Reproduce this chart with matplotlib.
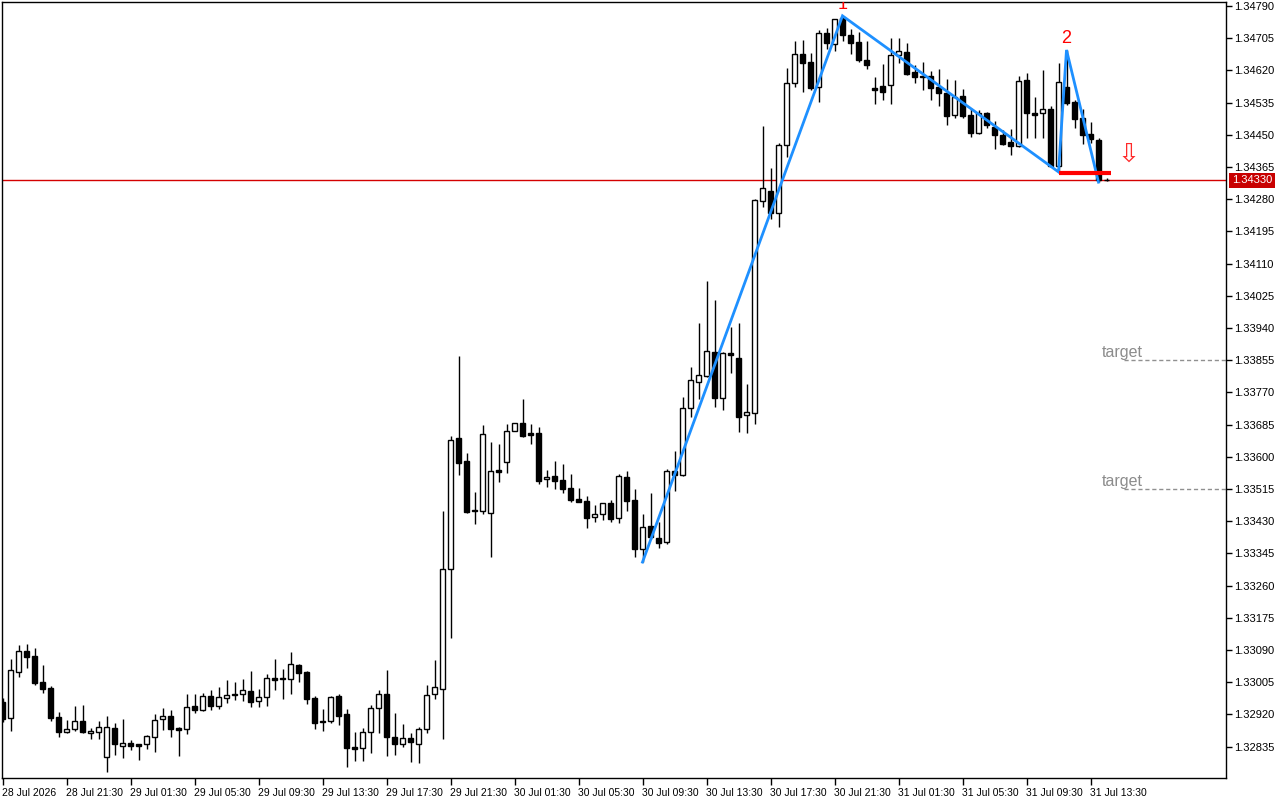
import numpy as np
import matplotlib
matplotlib.use("Agg")
import matplotlib.pyplot as plt
import matplotlib.transforms as mtransforms

# 30 min bary, 28 Jul 17:30 az 31 Jul 14:30
opens = [1.32953, 1.32910, 1.33032, 1.33087, 1.33074, 1.33005, 1.32990, 1.32913, 1.32873, 1.32881,
         1.32902, 1.32871, 1.32873, 1.32807, 1.32884, 1.32836, 1.32844, 1.32842, 1.32842, 1.32860,
         1.32908, 1.32916, 1.32884, 1.32881, 1.32942, 1.32931, 1.32968, 1.32942, 1.32963, 1.32971,
         1.32974, 1.32982, 1.32955, 1.32966, 1.33016, 1.33016, 1.33013, 1.33050, 1.33032, 1.32963,
         1.32902, 1.32902, 1.32968, 1.32921, 1.32834, 1.32831, 1.32873, 1.32937, 1.32974, 1.32860,
         1.32842, 1.32858, 1.32842, 1.32881, 1.32974, 1.32987, 1.33304, 1.33650, 1.33589, 1.33459,
         1.33457, 1.33451, 1.33565, 1.33586, 1.33668, 1.33689, 1.33663, 1.33663, 1.33541, 1.33549,
         1.33539, 1.33518, 1.33489, 1.33483, 1.33441, 1.33449, 1.33478, 1.33438, 1.33547, 1.33486,
         1.33357, 1.33417, 1.33386, 1.33375, 1.33562, 1.33552, 1.33729, 1.33797, 1.33813, 1.33877,
         1.33755, 1.33874, 1.33861, 1.33710, 1.33715, 1.34275, 1.34302, 1.34243, 1.34423, 1.34587,
         1.34663, 1.34642, 1.34576, 1.34719, 1.34690, 1.34758, 1.34713, 1.34695, 1.34647, 1.34574,
         1.34579, 1.34581, 1.34661, 1.34669, 1.34616, 1.34605, 1.34605, 1.34576, 1.34560, 1.34502,
         1.34552, 1.34502, 1.34455, 1.34508, 1.34471, 1.34449, 1.34431, 1.34420, 1.34595, 1.34508,
         1.34508, 1.34518, 1.34368, 1.34576, 1.34537, 1.34494, 1.34452, 1.34436, 1.34331]
highs = [1.32963, 1.33066, 1.33103, 1.33106, 1.33095, 1.33050, 1.32995, 1.32926, 1.32905, 1.32942,
         1.32945, 1.32884, 1.32902, 1.32916, 1.32897, 1.32908, 1.32852, 1.32843, 1.32865, 1.32921,
         1.32937, 1.32931, 1.32887, 1.32974, 1.32974, 1.32976, 1.32984, 1.32992, 1.33011, 1.33005,
         1.33013, 1.33034, 1.32987, 1.33027, 1.33066, 1.33040, 1.33085, 1.33053, 1.33034, 1.32968,
         1.32934, 1.32968, 1.32974, 1.32934, 1.32873, 1.32884, 1.32945, 1.32984, 1.33037, 1.32924,
         1.32895, 1.32871, 1.32887, 1.32997, 1.33063, 1.33457, 1.33655, 1.33866, 1.33610, 1.33507,
         1.33684, 1.33639, 1.33634, 1.33686, 1.33690, 1.33752, 1.33686, 1.33679, 1.33565, 1.33589,
         1.33581, 1.33555, 1.33518, 1.33496, 1.33473, 1.33479, 1.33486, 1.33555, 1.33562, 1.33515,
         1.33449, 1.33504, 1.33428, 1.33568, 1.33615, 1.33758, 1.33837, 1.33953, 1.34064, 1.34014,
         1.33876, 1.33943, 1.33953, 1.33792, 1.34280, 1.34473, 1.34362, 1.34428, 1.34626, 1.34698,
         1.34700, 1.34666, 1.34727, 1.34732, 1.34757, 1.34764, 1.34729, 1.34721, 1.34698, 1.34603,
         1.34637, 1.34706, 1.34706, 1.34692, 1.34634, 1.34642, 1.34618, 1.34624, 1.34597, 1.34595,
         1.34571, 1.34521, 1.34515, 1.34510, 1.34486, 1.34463, 1.34465, 1.34605, 1.34613, 1.34550,
         1.34621, 1.34526, 1.34640, 1.34674, 1.34542, 1.34518, 1.34484, 1.34442, 1.34335]
lows = [1.32900, 1.32876, 1.33019, 1.33042, 1.32997, 1.32976, 1.32902, 1.32860, 1.32871, 1.32876,
        1.32871, 1.32855, 1.32855, 1.32768, 1.32813, 1.32805, 1.32826, 1.32799, 1.32828, 1.32821,
        1.32879, 1.32860, 1.32810, 1.32868, 1.32924, 1.32929, 1.32931, 1.32934, 1.32950, 1.32958,
        1.32955, 1.32939, 1.32939, 1.32942, 1.32984, 1.32960, 1.32974, 1.33005, 1.32947, 1.32881,
        1.32876, 1.32897, 1.32892, 1.32781, 1.32797, 1.32797, 1.32818, 1.32871, 1.32810, 1.32813,
        1.32834, 1.32794, 1.32792, 1.32871, 1.32960, 1.32855, 1.33122, 1.33552, 1.33451, 1.33422,
        1.33449, 1.33335, 1.33533, 1.33557, 1.33667, 1.33652, 1.33634, 1.33528, 1.33520, 1.33515,
        1.33504, 1.33481, 1.33480, 1.33412, 1.33428, 1.33433, 1.33428, 1.33425, 1.33457, 1.33335,
        1.33322, 1.33383, 1.33359, 1.33370, 1.33510, 1.33549, 1.33705, 1.33752, 1.33811, 1.33731,
        1.33723, 1.33821, 1.33665, 1.33663, 1.33686, 1.34259, 1.34228, 1.34207, 1.34391, 1.34576,
        1.34563, 1.34568, 1.34537, 1.34677, 1.34671, 1.34698, 1.34663, 1.34642, 1.34624, 1.34531,
        1.34542, 1.34531, 1.34640, 1.34608, 1.34587, 1.34568, 1.34542, 1.34526, 1.34476, 1.34494,
        1.34494, 1.34444, 1.34452, 1.34468, 1.34412, 1.34423, 1.34397, 1.34418, 1.34442, 1.34442,
        1.34442, 1.34366, 1.34352, 1.34529, 1.34468, 1.34426, 1.34428, 1.34325, 1.34327]
closes = [1.32908, 1.33037, 1.33087, 1.33071, 1.33003, 1.32987, 1.32910, 1.32873, 1.32881, 1.32902,
          1.32873, 1.32876, 1.32887, 1.32887, 1.32842, 1.32844, 1.32836, 1.32836, 1.32863, 1.32905,
          1.32916, 1.32881, 1.32879, 1.32939, 1.32931, 1.32968, 1.32942, 1.32966, 1.32971, 1.32974,
          1.32984, 1.32953, 1.32966, 1.33016, 1.33011, 1.33013, 1.33053, 1.33029, 1.32960, 1.32897,
          1.32900, 1.32966, 1.32916, 1.32831, 1.32828, 1.32873, 1.32937, 1.32974, 1.32860, 1.32842,
          1.32858, 1.32847, 1.32881, 1.32971, 1.32992, 1.33304, 1.33644, 1.33584, 1.33454, 1.33457,
          1.33660, 1.33562, 1.33560, 1.33668, 1.33689, 1.33655, 1.33657, 1.33536, 1.33547, 1.33536,
          1.33515, 1.33486, 1.33481, 1.33438, 1.33449, 1.33478, 1.33436, 1.33549, 1.33483, 1.33357,
          1.33415, 1.33388, 1.33372, 1.33562, 1.33552, 1.33729, 1.33803, 1.33816, 1.33879, 1.33755,
          1.33874, 1.33869, 1.33705, 1.33718, 1.34278, 1.34310, 1.34243, 1.34423, 1.34587, 1.34663,
          1.34640, 1.34574, 1.34719, 1.34692, 1.34756, 1.34713, 1.34692, 1.34647, 1.34634, 1.34568,
          1.34563, 1.34661, 1.34671, 1.34610, 1.34603, 1.34603, 1.34574, 1.34560, 1.34500, 1.34550,
          1.34500, 1.34455, 1.34508, 1.34476, 1.34449, 1.34426, 1.34420, 1.34592, 1.34508, 1.34502,
          1.34518, 1.34368, 1.34589, 1.34534, 1.34492, 1.34449, 1.34439, 1.34331, 1.34330]

time_labels = ["28 Jul 2026", "28 Jul 21:30", "29 Jul 01:30", "29 Jul 05:30", "29 Jul 09:30",
               "29 Jul 13:30", "29 Jul 17:30", "29 Jul 21:30", "30 Jul 01:30", "30 Jul 05:30",
               "30 Jul 09:30", "30 Jul 13:30", "30 Jul 17:30", "30 Jul 21:30", "31 Jul 01:30",
               "31 Jul 05:30", "31 Jul 09:30", "31 Jul 13:30"]
bars_per_label = 8

price_labels = ["1.34790", "1.34705", "1.34620", "1.34535", "1.34450", "1.34365", "1.34280",
                "1.34195", "1.34110", "1.34025", "1.33940", "1.33855", "1.33770", "1.33685",
                "1.33600", "1.33515", "1.33430", "1.33345", "1.33260", "1.33175", "1.33090",
                "1.33005", "1.32920", "1.32835"]

current_price = 1.34330
zigzag_bars = [80, 105, 132, 133, 137]
zigzag_side = ["low", "high", "low", "high", "low"]
wave_marks = {105: "1", 133: "2"}
neckline = 1.34349
neckline_from = 132
targets = [1.33855, 1.33515]

UP = "white"
DOWN = "black"
RED = "#d40000"
BLUE = "#1e90ff"
GRAY = "#8c8c8c"
axis_font = ["Liberation Sans Narrow", "Liberation Sans", "DejaVu Sans"]

o = np.array(opens)
h = np.array(highs)
l = np.array(lows)
c = np.array(closes)
n = len(o)
x = np.arange(n)

fig = plt.figure(figsize=(12.8, 8), dpi=100)
ax = fig.add_axes([2 / 1280, 22 / 800, 1224 / 1280, 776 / 800])
ax.set_xlim(-0.0625, 152.9375)
ax.set_ylim(1.3275209, 1.3480056)

# svicky
ax.vlines(x, l, h, color="black", lw=1, zorder=2)
bottom = np.minimum(o, c)
height = np.maximum(np.abs(c - o), 1e-6)
face = [UP if cc >= oo else DOWN for oo, cc in zip(o, c)]
ax.bar(x, height, bottom=bottom, width=0.62, color=face, edgecolor="black", linewidth=1, zorder=3)

# aktualni cena
ax.axhline(current_price, color=RED, lw=1, zorder=1)
ax.annotate(f"{current_price:.5f}", xy=(1, current_price), xycoords=("axes fraction", "data"),
            xytext=(6, 0), textcoords="offset pixels", ha="left", va="center", color="white",
            fontsize=8, family=axis_font, annotation_clip=False,
            bbox=dict(facecolor="#c80000", edgecolor="none", pad=1.8))

# zigzag
zz_y = [h[b] if s == "high" else l[b] for b, s in zip(zigzag_bars, zigzag_side)]
ax.plot(zigzag_bars, zz_y, color=BLUE, lw=2, zorder=4, solid_joinstyle="miter")
for b, txt in wave_marks.items():
    ax.annotate(txt, xy=(b, h[b]), xytext=(0, 3), textcoords="offset pixels", ha="center",
                va="bottom", color="red", fontsize=13, family="Liberation Sans", clip_on=True)

# neckline + sipka
ax.hlines(neckline, neckline_from, n - 0.5, color="red", lw=3, zorder=5)
ax.annotate("\u21e9", xy=(n + 1.8, neckline), xytext=(0, 5), textcoords="offset pixels",
            ha="center", va="bottom", color="#ff2a2a", fontsize=19, family="DejaVu Sans")

# targety
for t in targets:
    ax.hlines(t, n + 1.2, ax.get_xlim()[1], colors="#909090", linestyles=(0, (3, 2)), lw=1)
    ax.text(n + 1.0, t, "target", ha="center", va="bottom", color=GRAY, fontsize=11.5,
            family="Liberation Sans")

# osy
ax.yaxis.tick_right()
ax.set_yticks([float(p) for p in price_labels])
ax.set_yticklabels(price_labels, family=axis_font, fontsize=8)
ax.set_xticks(np.arange(len(time_labels)) * bars_per_label)
ax.set_xticklabels(time_labels, family=axis_font, fontsize=7.5, ha="left")
ax.tick_params(axis="y", direction="out", length=4, width=1, pad=2, colors="black")
ax.tick_params(axis="x", direction="out", length=5, width=1, pad=2, colors="black")
for s in ax.spines.values():
    s.set_linewidth(1)
    s.set_color("black")

fig.savefig("out.png", dpi=100)
